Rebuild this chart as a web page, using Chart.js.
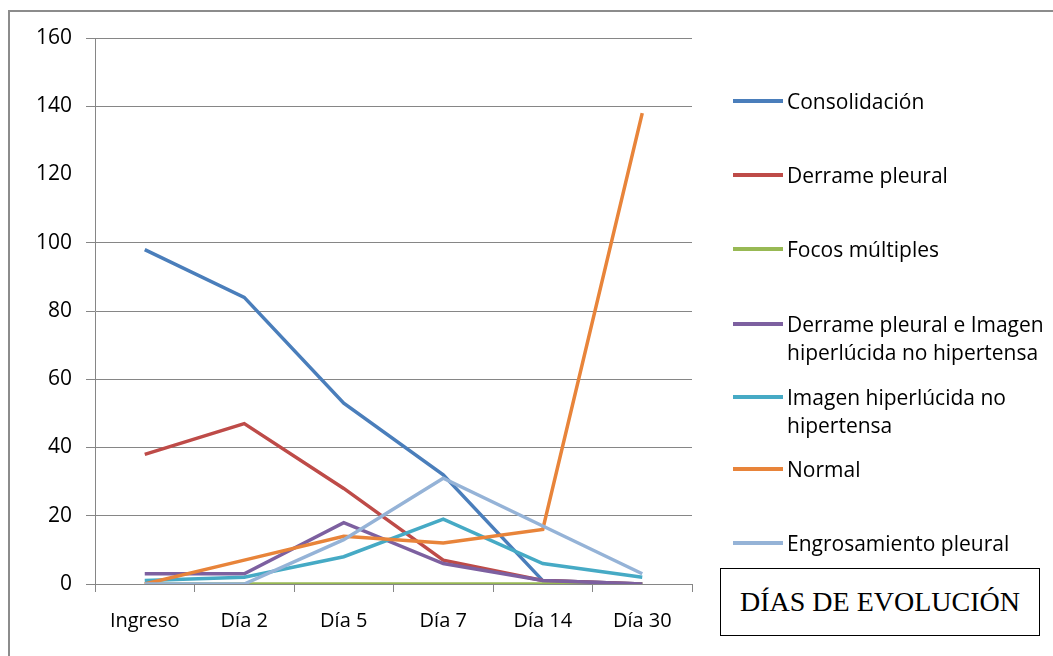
<!DOCTYPE html>
<html><head><meta charset="utf-8">
<script src="https://cdn.jsdelivr.net/npm/chart.js@4"></script>
<style>
html,body{margin:0;padding:0;background:#fff;overflow:hidden}
#wrap{position:relative;width:1053px;height:656px}
#frame{position:absolute;left:8px;top:10px;width:1100px;height:700px;border:2px solid #8c8c8c;box-sizing:border-box}
canvas{position:absolute;left:0;top:0}
#legend{position:absolute;left:733px;top:0;font-family:"Open Sans",sans-serif;font-size:21px;color:#000}
.item{position:absolute;left:0;width:330px}
.sw{position:absolute;left:0;width:50px;height:4px}
.tx{position:absolute;left:54px;line-height:28px;white-space:nowrap}
#xtitle{position:absolute;left:720px;top:568px;width:320px;height:68px;border:1.5px solid #000;box-sizing:border-box;font-family:"Liberation Serif",serif;font-size:28px;display:flex;align-items:center;justify-content:center;background:#fff}
</style></head>
<body><div id="wrap">
<div id="frame"></div>
<canvas id="c" width="1053" height="656"></canvas>
<div id="legend"></div>
<div id="xtitle">DÍAS DE EVOLUCIÓN</div>
</div>
<script>
const categories = ["Ingreso","Día 2","Día 5","Día 7","Día 14","Día 30"];
const seriesNames = ["Consolidación","Derrame pleural","Focos múltiples","Derrame pleural e Imagen hiperlúcida no hipertensa","Imagen hiperlúcida no hipertensa","Normal","Engrosamiento pleural"];
const consolidacion = [98,84,53,32,1,0];
const derramePleural = [38,47,28,7,1,0];
const focosMultiples = [0,0,0,0,0,0];
const derrameImagen = [3,3,18,6,1,0];
const imagenHiperlucida = [1,2,8,19,6,2];
const normal = [0,7,14,12,16,138];
const engrosamiento = [0,0,13,31,17,3];
const yTicks = [0,20,40,60,80,100,120,140,160];

const colors = ["#4A7EBB","#BE4B48","#98B954","#7D60A0","#46AAC5","#E8843A","#95B3D7"];
const values = [consolidacion,derramePleural,focosMultiples,derrameImagen,imagenHiperlucida,normal,engrosamiento];
const legendLines = [["Consolidación"],["Derrame pleural"],["Focos múltiples"],["Derrame pleural e Imagen","hiperlúcida no hipertensa"],["Imagen hiperlúcida no","hipertensa"],["Normal"],["Engrosamiento pleural"]];
const legendY = [101,175,249,324,397,469,543];

const datasets = values.map((v,i)=>({label:seriesNames[i],data:v,borderColor:colors[i],backgroundColor:colors[i],borderWidth:3.5,pointRadius:0,tension:0,order:values.length-i}));

new Chart(document.getElementById('c'),{
  type:'line',
  data:{labels:categories,datasets},
  options:{
    responsive:false,animation:false,
    layout:{padding:{left:0,top:38,right:361,bottom:0}},
    plugins:{legend:{display:false},tooltip:{enabled:false}},
    scales:{
      x:{offset:true,
        grid:{offset:true,drawOnChartArea:false,drawTicks:true,tickLength:8,color:'#868686'},
        border:{color:'#868686',width:1},
        ticks:{font:{family:'Open Sans',size:20},color:'#000',padding:17,maxRotation:0},
        afterFit(s){s.height=72;}
      },
      y:{min:0,max:160,
        afterBuildTicks(s){s.ticks=yTicks.map(v=>({value:v}));},
        grid:{color:c=>(yTicks[c.index]===120)?'rgba(0,0,0,0)':'#868686',tickLength:9,lineWidth:1},
        border:{color:'#868686',width:1},
        ticks:{font:{family:'Open Sans',size:21},color:'#000',padding:14},
        afterFit(s){s.width=95;}
      }
    }
  }
});

const lg=document.getElementById('legend');
legendLines.forEach((lines,i)=>{
  const it=document.createElement('div');it.className='item';it.style.top=(legendY[i]-14)+'px';
  const sw=document.createElement('div');sw.className='sw';sw.style.background=colors[i];sw.style.top='12px';
  const tx=document.createElement('div');tx.className='tx';tx.style.top='0px';tx.innerHTML=lines.join('<br>');
  it.appendChild(sw);it.appendChild(tx);lg.appendChild(it);
});
</script>
</body></html>
